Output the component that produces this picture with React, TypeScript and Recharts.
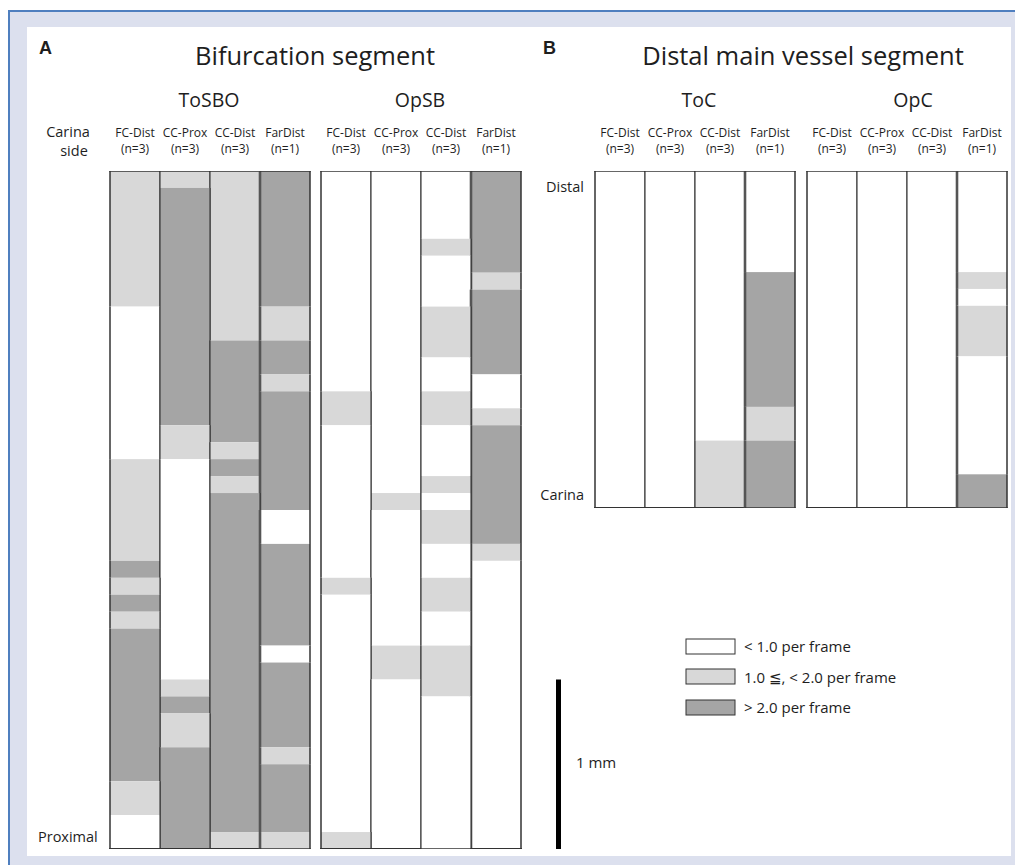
import React from 'react';
import { BarChart, Bar, XAxis, YAxis, Cell } from 'recharts';

// Frequency levels: 0 = < 1.0 per frame, 1 = 1.0–2.0 per frame, 2 = > 2.0 per frame
const LEVEL_COLORS = ['#ffffff', '#d8d8d8', '#a5a5a5'];
const LEVEL_LABELS = ['< 1.0 per frame', '1.0 ≦, < 2.0 per frame', '> 2.0 per frame'];

const columnNames = ['FC-Dist', 'CC-Prox', 'CC-Dist', 'FarDist'];
const columnNs = ['(n=3)', '(n=3)', '(n=3)', '(n=1)'];

// Runs listed from the top of each strip downward: [level, length in 0.1 mm]
// Panel A – Bifurcation segment, ToSBO
const tosboFcDist = [[1, 8], [0, 9], [1, 6], [2, 1], [1, 1], [2, 1], [1, 1], [2, 9], [1, 2], [0, 2]];
const tosboCcProx = [[1, 1], [2, 14], [1, 2], [0, 13], [1, 1], [2, 1], [1, 2], [2, 6]];
const tosboCcDist = [[1, 10], [2, 6], [1, 1], [2, 1], [1, 1], [2, 20], [1, 1]];
const tosboFarDist = [[2, 8], [1, 2], [2, 2], [1, 1], [2, 7], [0, 2], [2, 6], [0, 1], [2, 5], [1, 1], [2, 4], [1, 1]];
// Panel A – Bifurcation segment, OpSB
const opsbFcDist = [[0, 13], [1, 2], [0, 9], [1, 1], [0, 14], [1, 1]];
const opsbCcProx = [[0, 19], [1, 1], [0, 8], [1, 2], [0, 10]];
const opsbCcDist = [[0, 4], [1, 1], [0, 3], [1, 3], [0, 2], [1, 2], [0, 3], [1, 1], [0, 1], [1, 2], [0, 2], [1, 2], [0, 2], [1, 3], [0, 9]];
const opsbFarDist = [[2, 6], [1, 1], [2, 5], [0, 2], [1, 1], [2, 7], [1, 1], [0, 17]];
// Panel B – Distal main vessel segment, ToC
const tocFcDist = [[0, 20]];
const tocCcProx = [[0, 20]];
const tocCcDist = [[0, 16], [1, 4]];
const tocFarDist = [[0, 6], [2, 8], [1, 2], [2, 4]];
// Panel B – Distal main vessel segment, OpC
const opcFcDist = [[0, 20]];
const opcCcProx = [[0, 20]];
const opcCcDist = [[0, 20]];
const opcFarDist = [[0, 6], [1, 1], [0, 1], [1, 3], [0, 7], [2, 2]];

const scaleBar = [{ label: '1 mm', mm: 1 }];

const FONT = '"Open Sans", "Noto Sans", "DejaVu Sans", sans-serif';
const BOLD_FONT = '"Liberation Sans", Arial, sans-serif';
const TEXT = '#1e1e1e';
const EDGE = '#333';

function buildRows(cols: number[][][]) {
  return cols.map((runs, i) => {
    const row: any = { name: columnNames[i], n: columnNs[i] };
    runs.forEach(([lv, len], k) => {
      row[`s${k}`] = len / 10;
      row[`l${k}`] = lv;
    });
    return row;
  });
}

const CHART_TOP = 110;
const AXIS_H = 61;
const M = 3;

function StripChart({ left, plotHeight, maxMm, columns }: { left: number; plotHeight: number; maxMm: number; columns: number[][][] }) {
  const rows = buildRows(columns);
  const nSeg = Math.max(...columns.map((c) => c.length));
  const plotTop = AXIS_H;
  const plotBottom = AXIS_H + plotHeight;
  const width = 200 + 2 * M;
  const height = AXIS_H + plotHeight + M;

  const shape = (p: any) => {
    const { x, y, width: w, height: h, fill, index } = p;
    if (x == null || y == null) return <g />;
    const top = Math.min(y, y + h);
    const hh = Math.abs(h);
    const bottom = top + hh;
    const isFar = index === 3;
    const isFirst = index === 0;
    return (
      <g>
        {hh > 0 && <rect x={x} y={top} width={w} height={hh} fill={fill} />}
        <line x1={x} x2={x} y1={top} y2={bottom} stroke={isFar ? '#555' : EDGE} strokeWidth={isFar ? 2.6 : isFirst ? 1.5 : 1.1} />
        <line x1={x + w} x2={x + w} y1={top} y2={bottom} stroke={EDGE} strokeWidth={isFar ? 1.5 : 1.1} />
        {Math.abs(top - plotTop) < 0.5 && <line x1={x - 0.75} x2={x + w + 0.75} y1={top} y2={top} stroke={EDGE} strokeWidth={1.5} />}
        {Math.abs(bottom - plotBottom) < 0.5 && <line x1={x - 0.75} x2={x + w + 0.75} y1={bottom} y2={bottom} stroke={EDGE} strokeWidth={1.5} />}
      </g>
    );
  };

  const tick = (p: any) => (
    <g>
      <text x={p.x} y={137 - CHART_TOP} textAnchor="middle" fontSize={12} fontFamily={FONT} fill={TEXT}>
        {p.payload.value}
      </text>
      <text x={p.x} y={153 - CHART_TOP} textAnchor="middle" fontSize={12} fontFamily={FONT} fill={TEXT}>
        {columnNs[p.index]}
      </text>
    </g>
  );

  return (
    <div style={{ position: 'absolute', left: left - M, top: CHART_TOP }}>
      <BarChart width={width} height={height} data={rows} margin={{ top: 0, right: M, bottom: M, left: M }} barCategoryGap={0} barGap={0}>
        <XAxis dataKey="name" orientation="top" height={AXIS_H} tickLine={false} axisLine={false} interval={0} tick={tick} />
        <YAxis hide reversed type="number" domain={[0, maxMm]} allowDataOverflow />
        {Array.from({ length: nSeg }, (_, k) => (
          <Bar key={k} dataKey={`s${k}`} stackId="strip" isAnimationActive={false} shape={shape}>
            {rows.map((r, j) => (
              <Cell key={j} fill={r[`l${k}`] === undefined ? 'none' : LEVEL_COLORS[r[`l${k}`]]} />
            ))}
          </Bar>
        ))}
      </BarChart>
    </div>
  );
}

export default function App() {
  const t = (x: number, y: number, s: string, size: number, anchor: 'start' | 'middle' | 'end' = 'start', weight = 400, family = FONT) => (
    <text x={x} y={y} fontSize={size} fontFamily={family} fill={TEXT} textAnchor={anchor} fontWeight={weight}>
      {s}
    </text>
  );
  return (
    <div style={{ position: 'absolute', left: 0, top: 0, width: 1015, height: 865, background: '#fff', overflow: 'hidden' }}>
      <div style={{ position: 'absolute', left: 8, top: 10, width: 1007, height: 855, background: '#dce0ee', borderTop: '2px solid #4f7fbf', borderLeft: '2px solid #4f7fbf', boxSizing: 'border-box' }} />
      <div style={{ position: 'absolute', left: 27, top: 27, width: 984, height: 829, background: '#fff' }} />
      <svg width={1015} height={865} style={{ position: 'absolute', left: 0, top: 0 }}>
        {t(39, 54, 'A', 18, 'start', 700, BOLD_FONT)}
        {t(543, 54, 'B', 18, 'start', 700, BOLD_FONT)}
        {t(315, 65, 'Bifurcation segment', 25.5, 'middle')}
        {t(803, 65, 'Distal main vessel segment', 25.5, 'middle')}
        {t(209, 107, 'ToSBO', 19.5, 'middle')}
        {t(420, 107, 'OpSB', 19.5, 'middle')}
        {t(699, 107, 'ToC', 19.5, 'middle')}
        {t(913, 107, 'OpC', 19.5, 'middle')}
        {t(68, 137, 'Carina', 14.5, 'middle')}
        {t(74, 156, 'side', 14.5, 'middle')}
        {t(38, 842, 'Proximal', 14.5)}
        {t(584, 192, 'Distal', 14.5, 'end')}
        {t(584, 500, 'Carina', 14.5, 'end')}
        {LEVEL_LABELS.map((lab, i) => (
          <g key={lab}>
            <rect x={686} y={[639, 669, 700][i]} width={49} height={15} fill={LEVEL_COLORS[i]} stroke="#333" strokeWidth={1} />
            {t(744, [652, 683, 713][i], lab, 15)}
          </g>
        ))}
        {t(576, 768, '1 mm', 15)}
      </svg>
      <StripChart left={110} plotHeight={678} maxMm={4} columns={[tosboFcDist, tosboCcProx, tosboCcDist, tosboFarDist]} />
      <StripChart left={321} plotHeight={678} maxMm={4} columns={[opsbFcDist, opsbCcProx, opsbCcDist, opsbFarDist]} />
      <StripChart left={595} plotHeight={337} maxMm={2} columns={[tocFcDist, tocCcProx, tocCcDist, tocFarDist]} />
      <StripChart left={807} plotHeight={337} maxMm={2} columns={[opcFcDist, opcCcProx, opcCcDist, opcFarDist]} />
      <div style={{ position: 'absolute', left: 555, top: 171 }}>
        <BarChart width={7} height={678} data={scaleBar} margin={{ top: 0, right: 1, bottom: 0, left: 1 }} barCategoryGap={0}>
          <XAxis dataKey="label" hide />
          <YAxis hide type="number" domain={[0, 4]} />
          <Bar dataKey="mm" fill="#000" isAnimationActive={false} />
        </BarChart>
      </div>
    </div>
  );
}
